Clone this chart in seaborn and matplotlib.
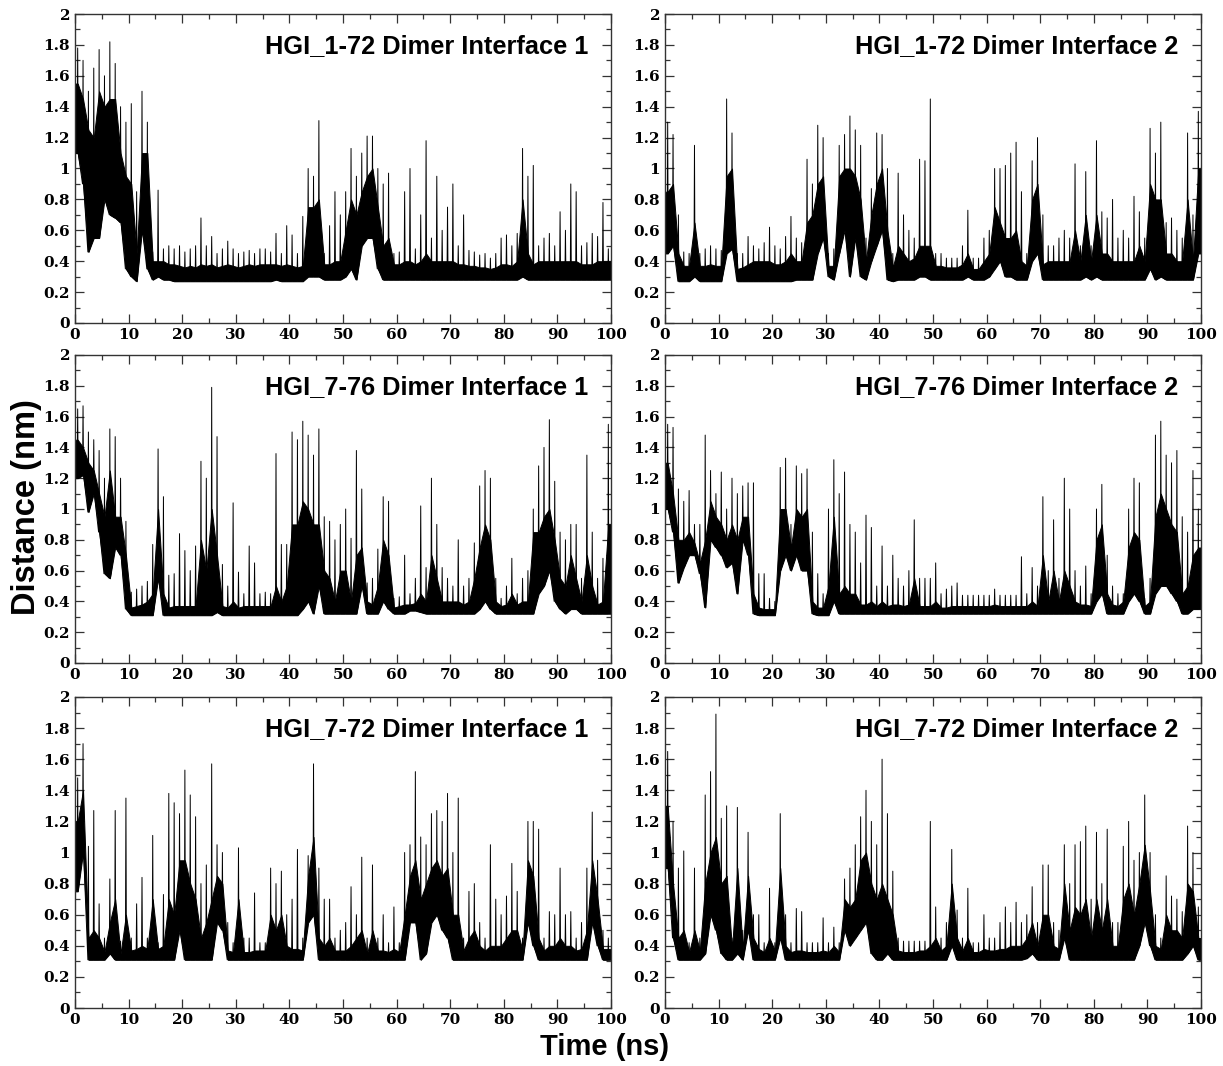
import numpy as np
import pandas as pd
import matplotlib
matplotlib.use("Agg")
import matplotlib.pyplot as plt
from matplotlib.ticker import MultipleLocator, FuncFormatter
import seaborn as sns

# ---------------------------------------------------------------------------
# Minimum-distance traces, 0-100 ns, summarised per 1 ns bin:
#   *_lo  : bottom of the dense band of frames in the bin (nm)
#   *_mid : top of the dense band of frames in the bin (nm)
#   *_pk  : highest excursion in the bin (nm)
# ---------------------------------------------------------------------------
titles = [
    "HGI_1-72 Dimer Interface 1", "HGI_1-72 Dimer Interface 2",
    "HGI_7-76 Dimer Interface 1", "HGI_7-76 Dimer Interface 2",
    "HGI_7-72 Dimer Interface 1", "HGI_7-72 Dimer Interface 2",
]

time_bins = list(range(100))

# HGI_1-72 interface 1
p1_lo = [1.10, 0.90, 0.46, 0.55, 0.55, 0.80, 0.70, 0.68, 0.65, 0.35,
         0.30, 0.27, 0.60, 0.35, 0.28, 0.30, 0.28, 0.28, 0.27, 0.27,
         0.27, 0.27, 0.27, 0.27, 0.27, 0.27, 0.27, 0.27, 0.27, 0.27,
         0.27, 0.27, 0.27, 0.27, 0.27, 0.27, 0.27, 0.28, 0.27, 0.27,
         0.27, 0.27, 0.27, 0.30, 0.30, 0.30, 0.28, 0.28, 0.28, 0.28,
         0.30, 0.35, 0.28, 0.50, 0.55, 0.55, 0.35, 0.28, 0.28, 0.28,
         0.28, 0.28, 0.28, 0.28, 0.28, 0.28, 0.28, 0.28, 0.28, 0.28,
         0.28, 0.28, 0.28, 0.28, 0.28, 0.28, 0.28, 0.28, 0.28, 0.28,
         0.28, 0.28, 0.28, 0.30, 0.28, 0.28, 0.28, 0.28, 0.28, 0.28,
         0.28, 0.28, 0.28, 0.28, 0.28, 0.28, 0.28, 0.28, 0.28, 0.28]
p1_mid = [1.55, 1.45, 1.25, 1.20, 1.50, 1.40, 1.45, 1.45, 1.10, 0.95,
          0.90, 0.45, 1.10, 1.10, 0.40, 0.40, 0.40, 0.38, 0.38, 0.37,
          0.36, 0.37, 0.36, 0.38, 0.37, 0.38, 0.36, 0.37, 0.38, 0.37,
          0.36, 0.37, 0.38, 0.37, 0.38, 0.38, 0.38, 0.38, 0.37, 0.38,
          0.37, 0.36, 0.37, 0.75, 0.75, 0.80, 0.38, 0.38, 0.40, 0.40,
          0.60, 0.80, 0.70, 0.85, 0.95, 1.00, 0.75, 0.50, 0.55, 0.38,
          0.38, 0.40, 0.40, 0.38, 0.40, 0.45, 0.40, 0.40, 0.40, 0.40,
          0.40, 0.38, 0.38, 0.37, 0.37, 0.36, 0.36, 0.35, 0.36, 0.38,
          0.38, 0.37, 0.40, 0.80, 0.45, 0.38, 0.40, 0.40, 0.40, 0.40,
          0.40, 0.40, 0.40, 0.40, 0.38, 0.38, 0.38, 0.40, 0.40, 0.40]
p1_pk = [1.78, 1.70, 1.50, 1.65, 1.77, 1.60, 1.82, 1.68, 1.40, 1.30,
         1.42, 0.85, 1.50, 1.30, 0.46, 0.86, 0.48, 0.50, 0.48, 0.50,
         0.46, 0.48, 0.50, 0.68, 0.50, 0.56, 0.45, 0.48, 0.53, 0.48,
         0.45, 0.46, 0.47, 0.45, 0.48, 0.48, 0.46, 0.58, 0.45, 0.63,
         0.57, 0.45, 0.69, 1.00, 0.95, 1.31, 0.45, 0.63, 0.85, 0.70,
         0.85, 1.13, 0.95, 1.10, 1.21, 1.21, 1.00, 0.90, 0.97, 0.45,
         0.46, 0.85, 1.00, 0.48, 0.70, 1.18, 0.55, 0.95, 0.60, 0.75,
         0.90, 0.50, 0.70, 0.47, 0.46, 0.44, 0.45, 0.42, 0.45, 0.55,
         0.57, 0.50, 0.58, 1.13, 0.95, 1.02, 0.50, 0.55, 0.58, 0.50,
         0.72, 0.60, 0.90, 0.85, 0.50, 0.52, 0.58, 0.56, 0.78, 0.48]

# HGI_1-72 interface 2
p2_lo = [0.45, 0.50, 0.27, 0.27, 0.27, 0.30, 0.27, 0.27, 0.27, 0.27,
         0.27, 0.45, 0.48, 0.27, 0.27, 0.27, 0.27, 0.27, 0.27, 0.27,
         0.27, 0.27, 0.27, 0.27, 0.28, 0.28, 0.28, 0.28, 0.45, 0.55,
         0.30, 0.28, 0.45, 0.60, 0.30, 0.55, 0.30, 0.28, 0.40, 0.50,
         0.60, 0.28, 0.27, 0.28, 0.28, 0.28, 0.28, 0.30, 0.30, 0.28,
         0.28, 0.28, 0.28, 0.28, 0.28, 0.28, 0.30, 0.28, 0.28, 0.28,
         0.30, 0.35, 0.40, 0.30, 0.30, 0.28, 0.28, 0.28, 0.40, 0.45,
         0.28, 0.28, 0.28, 0.28, 0.28, 0.28, 0.28, 0.28, 0.30, 0.28,
         0.30, 0.28, 0.28, 0.28, 0.28, 0.28, 0.28, 0.28, 0.28, 0.28,
         0.35, 0.28, 0.30, 0.28, 0.28, 0.28, 0.28, 0.28, 0.28, 0.45]
p2_mid = [0.85, 0.90, 0.45, 0.37, 0.37, 0.65, 0.37, 0.37, 0.38, 0.37,
          0.37, 0.95, 1.00, 0.35, 0.36, 0.38, 0.40, 0.40, 0.40, 0.40,
          0.38, 0.38, 0.40, 0.45, 0.40, 0.40, 0.65, 0.70, 0.90, 0.95,
          0.37, 0.37, 0.95, 1.00, 1.00, 0.95, 0.80, 0.40, 0.70, 0.90,
          1.00, 0.60, 0.36, 0.50, 0.45, 0.40, 0.42, 0.50, 0.50, 0.50,
          0.37, 0.37, 0.36, 0.36, 0.36, 0.38, 0.45, 0.35, 0.35, 0.40,
          0.45, 0.75, 0.65, 0.55, 0.55, 0.60, 0.40, 0.37, 0.80, 0.90,
          0.38, 0.40, 0.40, 0.40, 0.40, 0.40, 0.60, 0.40, 0.70, 0.40,
          0.70, 0.45, 0.45, 0.40, 0.40, 0.40, 0.40, 0.40, 0.50, 0.40,
          0.90, 0.80, 0.80, 0.45, 0.45, 0.40, 0.40, 0.80, 0.40, 1.00]
p2_pk = [1.30, 1.22, 0.70, 0.46, 0.45, 1.15, 0.45, 0.48, 0.50, 0.48,
         0.47, 1.45, 1.23, 0.45, 0.45, 0.56, 0.50, 0.48, 0.52, 0.62,
         0.50, 0.48, 0.56, 0.69, 0.55, 0.52, 1.06, 0.90, 1.28, 1.20,
         0.45, 0.48, 1.15, 1.22, 1.34, 1.25, 1.15, 0.55, 0.87, 1.23,
         1.22, 1.00, 0.45, 0.97, 0.70, 0.60, 0.55, 1.06, 1.05, 1.45,
         0.45, 0.45, 0.42, 0.42, 0.42, 0.50, 0.73, 0.42, 0.42, 0.55,
         0.60, 1.00, 1.00, 1.02, 1.10, 1.17, 0.85, 0.45, 1.05, 1.20,
         0.70, 0.50, 0.50, 0.55, 0.60, 0.55, 1.03, 0.50, 0.98, 0.50,
         1.18, 0.72, 0.68, 0.80, 0.55, 0.60, 0.55, 0.82, 0.72, 0.55,
         1.26, 1.10, 1.30, 0.65, 0.68, 0.60, 0.55, 1.23, 0.70, 1.37]

# HGI_7-76 interface 1
p3_lo = [1.20, 1.22, 0.98, 1.10, 0.85, 0.58, 0.55, 0.75, 0.70, 0.35,
         0.31, 0.31, 0.31, 0.31, 0.31, 0.55, 0.31, 0.31, 0.31, 0.31,
         0.31, 0.31, 0.31, 0.31, 0.31, 0.31, 0.33, 0.31, 0.31, 0.31,
         0.31, 0.31, 0.31, 0.31, 0.31, 0.31, 0.31, 0.31, 0.31, 0.31,
         0.31, 0.31, 0.35, 0.40, 0.32, 0.50, 0.32, 0.32, 0.32, 0.32,
         0.32, 0.32, 0.32, 0.50, 0.32, 0.32, 0.32, 0.40, 0.35, 0.32,
         0.32, 0.32, 0.34, 0.34, 0.33, 0.32, 0.32, 0.32, 0.32, 0.32,
         0.32, 0.32, 0.32, 0.32, 0.32, 0.35, 0.40, 0.35, 0.32, 0.32,
         0.32, 0.32, 0.32, 0.32, 0.32, 0.32, 0.45, 0.50, 0.60, 0.40,
         0.35, 0.32, 0.35, 0.35, 0.32, 0.32, 0.32, 0.32, 0.32, 0.32]
p3_mid = [1.45, 1.40, 1.30, 1.25, 1.10, 0.95, 1.25, 0.95, 0.95, 0.70,
          0.36, 0.37, 0.38, 0.40, 0.45, 1.00, 0.45, 0.36, 0.37, 0.37,
          0.37, 0.37, 0.37, 0.80, 0.60, 1.00, 0.70, 0.37, 0.36, 0.40,
          0.36, 0.37, 0.37, 0.37, 0.37, 0.37, 0.37, 0.50, 0.40, 0.50,
          0.90, 0.90, 1.05, 1.00, 0.90, 0.90, 0.60, 0.55, 0.40, 0.60,
          0.60, 0.40, 0.70, 0.75, 0.40, 0.38, 0.50, 0.80, 0.70, 0.36,
          0.37, 0.38, 0.38, 0.39, 0.45, 0.40, 0.70, 0.55, 0.40, 0.40,
          0.40, 0.40, 0.38, 0.40, 0.55, 0.75, 0.90, 0.80, 0.40, 0.37,
          0.38, 0.45, 0.38, 0.40, 0.40, 0.85, 0.85, 0.95, 1.00, 0.80,
          0.55, 0.50, 0.70, 0.55, 0.40, 0.70, 0.50, 0.38, 0.40, 0.90]
p3_pk = [1.65, 1.67, 1.50, 1.45, 1.38, 1.20, 1.52, 1.47, 1.20, 0.92,
         0.46, 0.48, 0.50, 0.53, 0.77, 1.39, 1.08, 0.57, 0.58, 0.84,
         0.73, 0.60, 0.76, 1.31, 1.20, 1.79, 1.47, 0.64, 0.50, 1.04,
         0.59, 0.45, 0.76, 0.65, 0.45, 0.46, 0.45, 1.36, 0.77, 0.77,
         1.50, 1.45, 1.57, 1.48, 1.35, 1.52, 0.95, 0.92, 0.80, 0.90,
         1.00, 0.81, 1.38, 1.13, 0.52, 0.55, 0.74, 1.08, 1.05, 0.42,
         0.43, 0.70, 0.45, 0.55, 1.02, 0.62, 1.20, 0.90, 0.62, 0.55,
         0.50, 0.80, 0.50, 0.55, 0.78, 1.15, 1.25, 1.20, 0.55, 0.42,
         0.50, 0.68, 0.45, 0.55, 0.60, 1.00, 1.28, 1.40, 1.58, 1.18,
         0.85, 0.80, 0.90, 0.90, 0.55, 1.35, 0.85, 0.55, 0.68, 1.55]

# HGI_7-76 interface 2
p4_lo = [1.00, 0.85, 0.52, 0.62, 0.70, 0.70, 0.58, 0.36, 0.80, 0.75,
         0.70, 0.62, 0.65, 0.45, 0.80, 0.70, 0.32, 0.31, 0.31, 0.31,
         0.31, 0.60, 0.70, 0.60, 0.70, 0.60, 0.60, 0.32, 0.31, 0.31,
         0.31, 0.40, 0.32, 0.32, 0.32, 0.32, 0.32, 0.32, 0.32, 0.32,
         0.32, 0.32, 0.32, 0.32, 0.32, 0.32, 0.32, 0.32, 0.32, 0.32,
         0.32, 0.32, 0.32, 0.32, 0.32, 0.32, 0.32, 0.32, 0.32, 0.32,
         0.32, 0.32, 0.32, 0.32, 0.32, 0.32, 0.32, 0.32, 0.32, 0.32,
         0.32, 0.32, 0.32, 0.32, 0.32, 0.32, 0.32, 0.32, 0.32, 0.32,
         0.40, 0.45, 0.32, 0.32, 0.32, 0.32, 0.40, 0.45, 0.40, 0.32,
         0.32, 0.45, 0.50, 0.50, 0.45, 0.40, 0.32, 0.32, 0.35, 0.35]
p4_mid = [1.30, 1.10, 0.80, 0.80, 0.85, 0.78, 0.65, 0.80, 1.05, 0.95,
          0.90, 0.80, 0.90, 0.80, 0.95, 0.95, 0.45, 0.36, 0.35, 0.35,
          0.35, 1.00, 1.00, 0.75, 1.00, 0.95, 1.00, 0.40, 0.36, 0.36,
          0.50, 0.95, 0.45, 0.50, 0.45, 0.45, 0.38, 0.38, 0.40, 0.37,
          0.40, 0.37, 0.38, 0.38, 0.37, 0.38, 0.55, 0.37, 0.37, 0.37,
          0.40, 0.36, 0.36, 0.37, 0.37, 0.37, 0.37, 0.37, 0.37, 0.37,
          0.37, 0.38, 0.37, 0.37, 0.37, 0.37, 0.37, 0.37, 0.40, 0.37,
          0.70, 0.40, 0.60, 0.40, 0.60, 0.50, 0.40, 0.38, 0.38, 0.37,
          0.80, 0.90, 0.45, 0.38, 0.37, 0.40, 0.75, 0.85, 0.80, 0.37,
          0.40, 0.95, 1.10, 1.00, 0.90, 0.85, 0.45, 0.50, 0.70, 0.75]
p4_pk = [1.55, 1.53, 1.13, 1.05, 1.12, 0.90, 0.90, 1.48, 1.25, 1.10,
         1.24, 1.00, 1.20, 1.10, 1.15, 1.17, 1.17, 0.58, 0.58, 0.42,
         0.40, 1.27, 1.33, 0.90, 1.28, 1.23, 1.26, 0.85, 0.58, 0.45,
         1.00, 1.32, 1.10, 1.24, 0.90, 0.85, 0.65, 0.96, 0.88, 0.50,
         0.76, 0.50, 0.70, 0.55, 0.50, 0.60, 0.93, 0.55, 0.55, 0.55,
         0.65, 0.45, 0.48, 0.50, 0.52, 0.44, 0.44, 0.44, 0.44, 0.44,
         0.44, 0.48, 0.44, 0.44, 0.44, 0.44, 0.69, 0.45, 0.62, 0.50,
         1.08, 0.60, 0.93, 0.55, 1.20, 1.00, 0.60, 0.50, 0.63, 0.45,
         1.00, 1.16, 0.70, 0.50, 0.45, 0.45, 1.00, 1.20, 1.17, 0.42,
         0.55, 1.48, 1.57, 1.35, 1.30, 1.38, 0.95, 0.85, 1.25, 1.00]

# HGI_7-72 interface 1
p5_lo = [0.75, 1.00, 0.31, 0.31, 0.31, 0.31, 0.35, 0.31, 0.31, 0.31,
         0.31, 0.31, 0.31, 0.31, 0.31, 0.31, 0.31, 0.31, 0.31, 0.50,
         0.31, 0.31, 0.31, 0.31, 0.31, 0.31, 0.55, 0.50, 0.31, 0.31,
         0.31, 0.31, 0.31, 0.31, 0.31, 0.31, 0.31, 0.31, 0.31, 0.31,
         0.31, 0.31, 0.31, 0.55, 0.60, 0.31, 0.31, 0.31, 0.31, 0.31,
         0.31, 0.31, 0.31, 0.31, 0.31, 0.31, 0.31, 0.31, 0.31, 0.31,
         0.31, 0.31, 0.55, 0.55, 0.31, 0.35, 0.55, 0.60, 0.50, 0.45,
         0.31, 0.31, 0.31, 0.31, 0.31, 0.31, 0.31, 0.31, 0.31, 0.31,
         0.31, 0.31, 0.31, 0.31, 0.55, 0.40, 0.31, 0.31, 0.31, 0.31,
         0.31, 0.31, 0.31, 0.31, 0.31, 0.31, 0.55, 0.40, 0.31, 0.31]
p5_mid = [1.20, 1.40, 0.45, 0.50, 0.45, 0.36, 0.55, 0.70, 0.35, 0.60,
          0.37, 0.38, 0.40, 0.38, 0.70, 0.38, 0.40, 0.70, 0.60, 0.95,
          0.95, 0.80, 0.70, 0.45, 0.55, 0.70, 0.85, 0.80, 0.37, 0.36,
          0.70, 0.36, 0.36, 0.37, 0.37, 0.37, 0.60, 0.50, 0.60, 0.40,
          0.38, 0.38, 0.37, 0.85, 1.10, 0.45, 0.40, 0.45, 0.37, 0.37,
          0.37, 0.40, 0.45, 0.50, 0.35, 0.50, 0.37, 0.37, 0.36, 0.38,
          0.36, 0.60, 0.85, 0.95, 0.70, 0.80, 0.90, 0.95, 0.85, 0.90,
          0.60, 0.60, 0.37, 0.45, 0.50, 0.40, 0.37, 0.40, 0.40, 0.40,
          0.45, 0.50, 0.50, 0.37, 0.95, 0.85, 0.45, 0.37, 0.40, 0.40,
          0.45, 0.40, 0.40, 0.37, 0.38, 0.50, 0.95, 0.70, 0.38, 0.38]
p5_pk = [1.48, 1.70, 1.04, 1.27, 0.67, 0.45, 0.83, 1.27, 0.43, 1.35,
         0.45, 0.67, 0.84, 0.45, 1.11, 0.42, 0.73, 1.38, 1.32, 1.25,
         1.53, 1.37, 1.23, 0.80, 0.92, 1.57, 1.05, 1.00, 0.55, 0.42,
         1.03, 0.45, 0.45, 0.74, 0.42, 0.42, 0.90, 0.80, 0.88, 0.60,
         0.70, 1.02, 0.45, 0.98, 1.57, 0.90, 0.70, 0.70, 0.45, 0.50,
         0.55, 0.78, 0.60, 0.97, 0.45, 0.92, 0.45, 0.60, 0.42, 0.65,
         0.42, 1.00, 1.05, 1.52, 1.10, 1.05, 1.25, 1.27, 1.20, 1.38,
         1.00, 1.35, 0.45, 0.75, 0.80, 0.55, 0.45, 1.05, 0.70, 0.60,
         0.72, 0.93, 0.75, 0.45, 1.20, 1.20, 1.15, 0.45, 0.62, 0.60,
         0.90, 0.60, 0.62, 0.45, 0.55, 0.90, 1.26, 0.95, 0.50, 0.45]

# HGI_7-72 interface 2
p6_lo = [0.90, 0.45, 0.31, 0.31, 0.31, 0.31, 0.31, 0.35, 0.60, 0.50,
         0.35, 0.31, 0.31, 0.35, 0.31, 0.50, 0.31, 0.31, 0.31, 0.31,
         0.31, 0.45, 0.31, 0.31, 0.31, 0.31, 0.31, 0.31, 0.31, 0.31,
         0.31, 0.31, 0.31, 0.50, 0.40, 0.45, 0.50, 0.55, 0.35, 0.31,
         0.31, 0.35, 0.31, 0.31, 0.31, 0.31, 0.31, 0.31, 0.31, 0.31,
         0.31, 0.31, 0.31, 0.40, 0.31, 0.31, 0.31, 0.31, 0.31, 0.31,
         0.31, 0.31, 0.31, 0.31, 0.31, 0.31, 0.31, 0.32, 0.35, 0.31,
         0.31, 0.31, 0.31, 0.31, 0.45, 0.31, 0.31, 0.31, 0.31, 0.31,
         0.31, 0.31, 0.31, 0.31, 0.31, 0.31, 0.31, 0.31, 0.40, 0.55,
         0.40, 0.31, 0.31, 0.31, 0.31, 0.31, 0.31, 0.35, 0.40, 0.31]
p6_mid = [1.30, 0.80, 0.45, 0.50, 0.36, 0.50, 0.37, 0.80, 1.00, 1.10,
          0.80, 0.85, 0.38, 0.90, 0.38, 0.85, 0.45, 0.38, 0.36, 0.45,
          0.37, 0.90, 0.40, 0.36, 0.37, 0.37, 0.36, 0.36, 0.36, 0.37,
          0.36, 0.40, 0.36, 0.70, 0.65, 0.70, 0.95, 1.00, 0.80, 0.70,
          0.80, 0.70, 0.60, 0.37, 0.36, 0.36, 0.36, 0.37, 0.37, 0.40,
          0.45, 0.37, 0.40, 0.80, 0.45, 0.37, 0.45, 0.36, 0.36, 0.38,
          0.37, 0.37, 0.38, 0.38, 0.40, 0.40, 0.40, 0.45, 0.55, 0.40,
          0.60, 0.60, 0.40, 0.38, 0.80, 0.50, 0.65, 0.60, 0.70, 0.45,
          0.70, 0.50, 0.70, 0.40, 0.40, 0.70, 0.80, 0.60, 0.80, 1.05,
          0.75, 0.40, 0.38, 0.60, 0.50, 0.50, 0.45, 0.80, 0.75, 0.45]
p6_pk = [1.65, 1.20, 0.90, 1.01, 0.42, 0.90, 0.45, 1.37, 1.52, 1.89,
         1.22, 1.30, 0.45, 1.29, 0.50, 1.13, 0.60, 0.60, 0.42, 0.77,
         0.42, 1.25, 0.60, 0.42, 0.64, 0.62, 0.42, 0.42, 0.42, 0.58,
         0.42, 0.52, 0.42, 0.83, 0.90, 1.05, 1.23, 1.40, 1.20, 1.05,
         1.60, 1.25, 0.88, 0.45, 0.43, 0.43, 0.43, 0.43, 0.43, 1.20,
         0.65, 0.45, 0.55, 1.02, 0.63, 0.45, 0.77, 0.42, 0.42, 0.60,
         0.45, 0.45, 0.55, 0.65, 0.55, 0.68, 0.55, 0.60, 0.78, 0.55,
         0.92, 0.92, 0.55, 0.50, 1.05, 0.80, 1.05, 1.07, 1.17, 0.70,
         1.13, 0.80, 1.15, 0.55, 0.55, 1.04, 1.20, 0.95, 1.00, 1.37,
         1.00, 0.60, 0.45, 0.85, 0.72, 0.70, 0.62, 1.17, 1.00, 0.65]

panels = [
    (p1_lo, p1_mid, p1_pk), (p2_lo, p2_mid, p2_pk),
    (p3_lo, p3_mid, p3_pk), (p4_lo, p4_mid, p4_pk),
    (p5_lo, p5_mid, p5_pk), (p6_lo, p6_mid, p6_pk),
]


def spike_frame(lo, pk):
    """One excursion per bin: band bottom -> peak -> band bottom."""
    lo, pk = np.asarray(lo, float), np.asarray(pk, float)
    t0 = np.asarray(time_bins, float)
    t = np.stack([t0 + 0.40, t0 + 0.50, t0 + 0.60], axis=1).ravel()
    d = np.stack([lo, pk, lo], axis=1).ravel()
    return pd.DataFrame({"t": t, "d": d})


sns.set_theme(style="ticks")
plt.rcParams.update({
    "font.family": ["Liberation Sans", "DejaVu Sans"],
    "text.color": "black",
    "axes.edgecolor": "#333333",
    "axes.linewidth": 1.0,
    "xtick.direction": "in",
    "ytick.direction": "in",
    "xtick.top": True,
    "ytick.right": True,
    "xtick.major.size": 6.5,
    "ytick.major.size": 6.5,
    "xtick.minor.size": 3.5,
    "ytick.minor.size": 3.5,
    "xtick.major.width": 0.9,
    "ytick.major.width": 0.9,
    "xtick.minor.width": 0.9,
    "ytick.minor.width": 0.9,
    "xtick.color": "#333333",
    "ytick.color": "#333333",
    "xtick.labelcolor": "black",
    "ytick.labelcolor": "black",
})

W, H = 1223, 1066
fig = plt.figure(figsize=(W / 100, H / 100), dpi=100)
fig.patch.set_facecolor("white")

col_left = [75, 665]
col_right = [611, 1201]
row_top = [14, 355, 697]
row_bottom = [323, 663, 1008]

for idx, (lo, mid, pk) in enumerate(panels):
    r, c = divmod(idx, 2)
    x0, x1 = col_left[c], col_right[c]
    y0, y1 = row_top[r], row_bottom[r]
    ax = fig.add_axes([x0 / W, 1 - y1 / H, (x1 - x0) / W, (y1 - y0) / H])
    ax.set_facecolor("white")

    # dense band of frames, bin centres joined and extended to the run ends
    tc = np.r_[0.0, np.asarray(time_bins, float) + 0.5, 100.0]
    lo_c = np.r_[lo[0], lo, lo[-1]]
    mid_c = np.r_[mid[0], mid, mid[-1]]
    ax.fill_between(tc, lo_c, mid_c, color="black", linewidth=0.7,
                    edgecolor="black")

    # isolated excursions above the band
    sns.lineplot(data=spike_frame(lo, pk), x="t", y="d", ax=ax,
                 color="black", linewidth=0.7, estimator=None, sort=False)

    ax.set_xlim(0, 100)
    ax.set_ylim(0, 2)
    ax.set_xlabel("")
    ax.set_ylabel("")
    ax.xaxis.set_major_locator(MultipleLocator(10))
    ax.xaxis.set_minor_locator(MultipleLocator(5))
    ax.yaxis.set_major_locator(MultipleLocator(0.2))
    ax.yaxis.set_minor_locator(MultipleLocator(0.1))
    ax.yaxis.set_major_formatter(FuncFormatter(lambda v, p: f"{v:g}"))
    ax.xaxis.set_major_formatter(FuncFormatter(lambda v, p: f"{v:g}"))
    ax.tick_params(axis="both", which="both", top=True, right=True,
                   labeltop=False, labelright=False, pad=3.5)
    for lab in ax.get_xticklabels() + ax.get_yticklabels():
        lab.set_fontfamily("DejaVu Serif")
        lab.set_fontweight("bold")
        lab.set_fontsize(11)
        lab.set_color("black")
    for s in ax.spines.values():
        s.set_visible(True)

    ax.text(0.957, 0.874, titles[idx], transform=ax.transAxes,
            ha="right", va="baseline", fontsize=18.3, fontweight="bold",
            family=["Liberation Sans", "DejaVu Sans"], color="black")

fig.text(0.022, 0.524, "Distance (nm)", rotation=90, ha="center",
         va="center", fontsize=23.5, fontweight="bold", color="black",
         family=["Liberation Sans", "DejaVu Sans"])
fig.text(0.494, 0.018, "Time (ns)", ha="center", va="center",
         fontsize=21, fontweight="bold", color="black",
         family=["Liberation Sans", "DejaVu Sans"])

fig.savefig("out.png", dpi=100, facecolor="white")
